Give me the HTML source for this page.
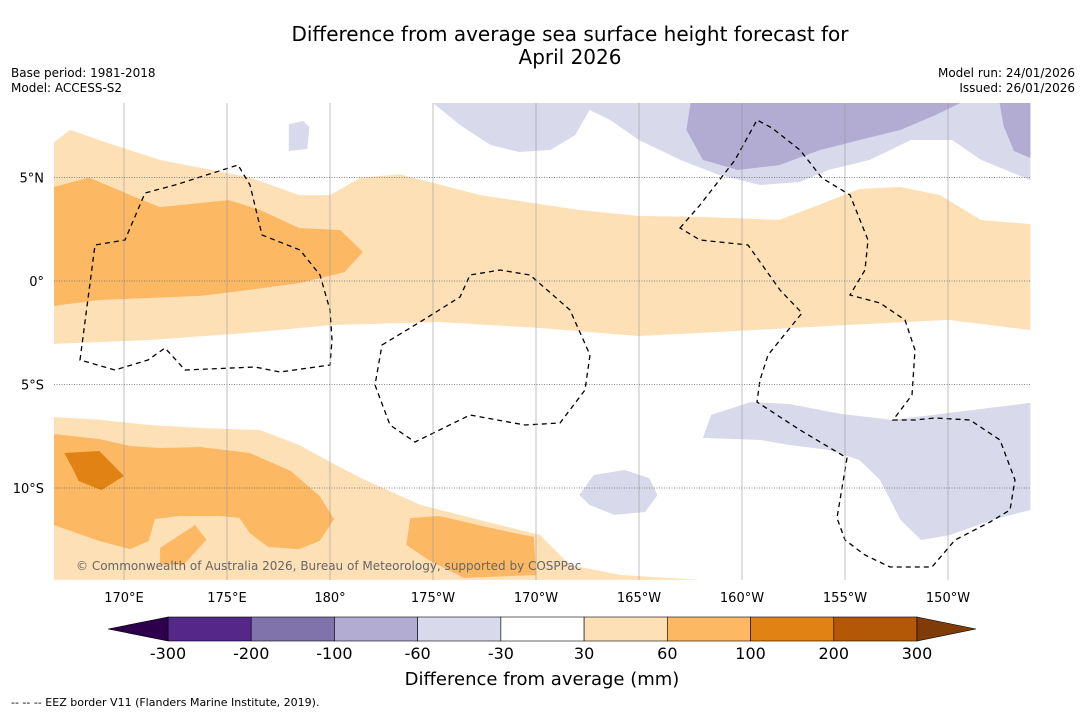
<!DOCTYPE html>
<html><head><meta charset="utf-8"><style>
body{margin:0;background:#fff;width:1085px;height:713px;overflow:hidden;font-family:"DejaVu Sans",sans-serif;}
svg text{font-family:"DejaVu Sans",sans-serif;}
</style></head><body>
<svg id="chart" width="1085" height="713" xmlns="http://www.w3.org/2000/svg">
<rect width="1085" height="713" fill="#fff"/>
<text x="570" y="41" font-size="20" text-anchor="middle">Difference from average sea surface height forecast for</text>
<text x="570" y="64" font-size="20" text-anchor="middle">April 2026</text>
<text x="11" y="77" font-size="12">Base period: 1981-2018</text>
<text x="11" y="92" font-size="12">Model: ACCESS-S2</text>
<text x="1075" y="77" font-size="12" text-anchor="end">Model run: 24/01/2026</text>
<text x="1075" y="92" font-size="12" text-anchor="end">Issued: 26/01/2026</text>
<g id="map"></g>
<g id="cbar"></g>
<text x="542" y="685" font-size="18" text-anchor="middle">Difference from average (mm)</text>
<text x="11" y="706" font-size="11">--  --  -- EEZ border V11 (Flanders Marine Institute, 2019).</text>
</svg>
<script>
const lonTicks=[170,175,180,185,190,195,200,205,210];
const lonLabels=["170°E","175°E","180°","175°W","170°W","165°W","160°W","155°W","150°W"];
const latTicks=[5,0,-5,-10];
const latLabels=["5°N","0°","5°S","10°S"];
const levels=["-300","-200","-100","-60","-30","30","60","100","200","300"];
const levelColors=["#542788","#8073ac","#b2abd2","#d8daeb","#ffffff","#fee0b6","#fdb863","#e08214","#b35806"];
const lowColor="#2d004b", highColor="#7f3b08";
const lightOrangeNorth=[[166.6,6.7],[167.4,7.3],[168.8,6.8],[171.75,5.85],[176.1,5],[178.5,4.15],[180,4.15],[181.5,5],[183.4,5.15],[187.3,4.15],[192.1,3.43],[195,3.14],[198,3.1],[201.8,2.95],[203.8,3.7],[205.7,4.45],[207.7,4.54],[209.6,4.15],[211.6,2.95],[214,2.75],[214,-2.37],[210,-1.88],[205,-2.13],[198.7,-2.47],[195,-2.66],[190.2,-2.27],[185.3,-1.98],[180,-2.13],[176.1,-2.5],[171.3,-2.85],[166.6,-3.04]];
const orangeNorth=[[166.6,4.54],[168.3,5],[170.3,4.15],[171.75,3.57],[173.7,3.77],[175.1,3.91],[176.6,3.43],[178.5,2.56],[180.5,2.46],[181.6,1.4],[180.7,0.43],[178.5,-0.1],[176.1,-0.43],[173.7,-0.72],[168.8,-0.92],[166.6,-1.2]];
const lightOrangeSouth=[[166.6,-6.57],[168.8,-6.7],[171.3,-6.96],[173.7,-7.1],[176.6,-7.2],[178.5,-7.92],[180,-8.74],[181.5,-9.52],[184.4,-10.82],[187.3,-11.55],[190.2,-12.27],[191.65,-13.72],[194.1,-14.2],[198,-14.44],[166.6,-14.44]];
const orangeSouth=[[166.6,-7.4],[168.8,-7.63],[170.3,-7.97],[171.75,-8.07],[173.7,-8.02],[176.1,-8.31],[178.1,-9.18],[179.5,-10.39],[180.2,-11.5],[179.5,-12.56],[178.5,-12.95],[177,-12.85],[176.1,-12.17],[175.6,-11.45],[174.7,-11.35],[172.7,-11.35],[171.5,-11.5],[171.2,-12.56],[170.3,-12.95],[168.8,-12.56],[166.6,-11.79]];
const orangeSouthBlob1=[[171.75,-12.9],[173.45,-11.79],[174,-12.5],[172.9,-13.7],[171.75,-13.7]];
const orangeSouthBlob2=[[183.9,-11.45],[185.3,-11.35],[188.25,-12.03],[189.9,-12.37],[190,-14.2],[186.5,-14.35],[184.8,-13.48],[183.7,-12.75]];
const darkOrangeSouth=[[167.1,-8.31],[168.8,-8.21],[170,-9.42],[168.9,-10.1],[167.8,-9.66],[167.5,-9.04]];
const lavenderNorth=[[185,8.6],[186.3,7.54],[187.8,6.57],[189.2,6.23],[190.7,6.33],[191.9,7.05],[192.6,8.26],[193.6,7.78],[195,6.81],[197,5.85],[198.9,5.12],[200.9,4.64],[202.8,4.78],[204.2,5.36],[206.2,5.85],[208.2,6.81],[210.2,6.81],[211.6,5.85],[214,4.88],[214,8.6]];
const lavenderSmall=[[178,7.58],[178.7,7.73],[179,7.44],[178.9,6.38],[178,6.28]];
const purpleNorth=[[197.5,8.6],[210.6,8.6],[209.4,8.02],[207.7,7.3],[205.7,6.81],[203.8,6.33],[201.8,5.6],[199.8,5.36],[198.1,5.85],[197.3,7.3]];
const purpleNorthEast=[[212.5,8.6],[214,8.6],[214,5.94],[213.2,6.28],[212.7,7.49]];
const lavenderSouth=[[198.1,-7.58],[198.5,-6.47],[200.4,-5.85],[202.3,-5.94],[204.8,-6.42],[207.3,-6.71],[209.3,-6.47],[211.2,-6.23],[214,-5.89],[214,-11.06],[212.1,-11.55],[210.1,-12.27],[208.7,-12.51],[207.7,-11.55],[206.7,-9.61],[205.7,-8.65],[204.2,-8.16],[202.3,-7.92],[200.9,-7.68]];
const lavenderSouthSmall=[[192.1,-10.34],[192.8,-9.37],[194.3,-9.13],[195.5,-9.52],[195.9,-10.34],[195.3,-11.16],[193.8,-11.3],[192.6,-10.82]];
const X0=54,X1=1031,Y0=103,Y1=580;
const xOf=lon=>330+(lon-180)*20.6;
const yOf=lat=>281-lat*20.7;
const NS="http://www.w3.org/2000/svg";
const map=document.getElementById('map');
function mk(tag,attrs,parent){const e=document.createElementNS(NS,tag);for(const k in attrs)e.setAttribute(k,attrs[k]);parent.appendChild(e);return e;}
const clip=mk('clipPath',{id:'mc'},map);mk('rect',{x:X0,y:Y0,width:X1-X0,height:Y1-Y0},clip);
const g=mk('g',{'clip-path':'url(#mc)'},map);
function poly(pts,fill,name){const p=mk('polygon',{points:pts.map(q=>xOf(q[0])+','+yOf(q[1])).join(' '),fill:fill},g);

}
poly(lightOrangeNorth,'#fee0b6','contour-30-north');
poly(orangeNorth,'#fdb863','contour-60-north');
poly(lightOrangeSouth,'#fee0b6','contour-30-south');
poly(orangeSouth,'#fdb863','contour-60-south');
poly(orangeSouthBlob1,'#fdb863','contour-60-blob-1');
poly(orangeSouthBlob2,'#fdb863','contour-60-blob-2');
poly(darkOrangeSouth,'#e08214','contour-100-south');
poly(lavenderNorth,'#d8daeb','contour-neg30-north');
poly(lavenderSmall,'#d8daeb','contour-neg30-small');
poly(purpleNorth,'#b2abd2','contour-neg60-north');
poly(purpleNorthEast,'#b2abd2','contour-neg60-northeast');
poly(lavenderSouth,'#d8daeb','contour-neg30-south');
poly(lavenderSouthSmall,'#d8daeb','contour-neg30-south-small');
const eez=["M80,360 L95,245 L125,240 L145,193 L175,185 L238,165 L250,185 L262,235 L300,250 L320,275 L330,310 L332,340 L330,365 L280,372 L255,367 L185,370 L165,348 L148,360 L115,370 Z",
"M382,345 L420,322 L460,297 L470,275 L500,270 L530,275 L570,310 L590,355 L585,390 L560,423 L525,425 L470,415 L415,442 L390,425 L375,385 Z",
"M680,228 L700,205 L735,160 L757,120 L772,128 L800,150 L822,178 L850,195 L868,240 L865,270 L850,295 L880,303 L905,320 L915,350 L912,395 L893,420 L915,420 L935,418 L970,420 L1000,440 L1015,480 L1010,510 L990,522 L955,540 L932,567 L890,567 L865,555 L845,540 L837,518 L847,458 L800,430 L757,402 L760,380 L768,355 L802,313 L780,290 L748,245 L700,240 Z"];
eez.forEach((d,i)=>{const p=mk('path',{d:d,fill:'none',stroke:'#000','stroke-width':1.3,'stroke-dasharray':'5,4'},g);

});
lonTicks.forEach((lon,i)=>{const x=xOf(lon);
const l=mk('line',{x1:x,y1:Y0,x2:x,y2:Y1,stroke:'#999','stroke-width':0.6},map);


const t=mk('text',{x:x,y:602,'font-size':13,'text-anchor':'middle'},map);t.textContent=lonLabels[i];

});
latTicks.forEach((lat,i)=>{const y=yOf(lat);
const l=mk('line',{x1:X0,y1:y,x2:X1,y2:y,stroke:'#666','stroke-width':0.7,'stroke-dasharray':'1,1.5'},map);


const t=mk('text',{x:44,y:y+5,'font-size':13,'text-anchor':'end'},map);t.textContent=latLabels[i];

});
const cp=mk('text',{x:76,y:570,'font-size':12,fill:'#666'},map);cp.textContent="© Commonwealth of Australia 2026, Bureau of Meteorology, supported by COSPPac";


const cb=document.getElementById('cbar');
const bx0=168,bx1=917,by=617,bh=24,bw=(bx1-bx0)/levelColors.length;
levelColors.forEach((c,i)=>{const r=mk('rect',{x:bx0+i*bw,y:by,width:bw,height:bh,fill:c,stroke:'#000','stroke-width':0.6},cb);

});
const lt=mk('polygon',{points:`${bx0},${by} 108,${by+bh/2} ${bx0},${by+bh}`,fill:lowColor,stroke:'#000','stroke-width':0.6},cb);


const rt=mk('polygon',{points:`${bx1},${by} 976,${by+bh/2} ${bx1},${by+bh}`,fill:highColor,stroke:'#000','stroke-width':0.6},cb);


levels.forEach((v,i)=>{const t=mk('text',{x:bx0+i*bw,y:659,'font-size':16,'text-anchor':'middle'},cb);t.textContent=v;

});
</script>
</body></html>
